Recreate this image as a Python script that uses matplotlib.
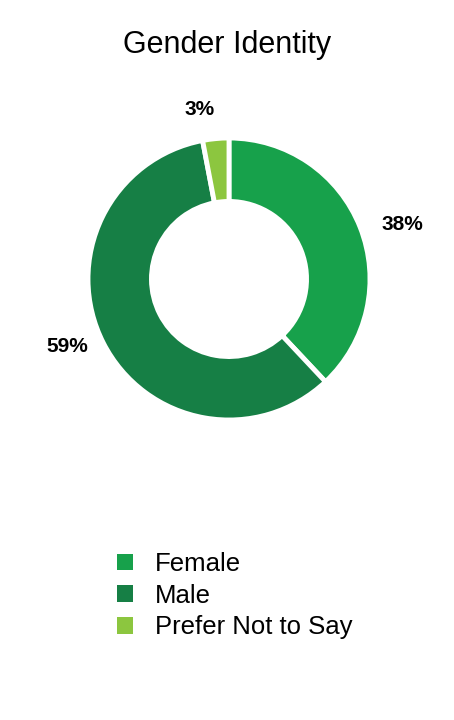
import numpy as np
import matplotlib.pyplot as plt
from matplotlib.patches import Patch

plt.rcParams['font.family'] = ['Liberation Sans', 'DejaVu Sans']

categories = ['Female', 'Male', 'Prefer Not to Say']
shares = [38, 59, 3]
colors = ['#17a14b', '#167f45', '#8cc63f']

# label placement tweaks (angle nudge in degrees, radius in pie units)
label_nudge = [-4.1, -4.3, 4.3]
label_radius = [1.29, 1.24, 1.22]

fig = plt.figure(figsize=(4.54, 7.2), dpi=100)
ax = fig.add_axes([29 / 454, (720 - 479) / 720, 400 / 454, 400 / 720])

wedges, _ = ax.pie(shares, colors=colors, startangle=90, counterclock=False,
                   radius=1.0, wedgeprops=dict(width=0.45, edgecolor='white', linewidth=3.5))

# percent labels outside the ring
total = sum(shares)
start = 90.0
for val, dang, r in zip(shares, label_nudge, label_radius):
    mid = start - 360 * val / total / 2 + dang
    start -= 360 * val / total
    ax.text(r * np.cos(np.radians(mid)), r * np.sin(np.radians(mid)), f'{val}%',
            ha='center', va='center', fontsize=15, fontweight='bold')

a = 400 / (2 * 141)
ax.set_xlim(-a, a)
ax.set_ylim(-a, a)
ax.set_aspect('equal')
ax.axis('off')

fig.text(0.5, 1 - 45 / 720, 'Gender Identity', ha='center', va='center', fontsize=22)

handles = [Patch(facecolor=c, edgecolor='none') for c in colors]
fig.legend(handles, categories, loc='upper left', bbox_to_anchor=(99 / 454, 1 - 534 / 720),
           frameon=False, fontsize=18.5, handlelength=0.62, handleheight=0.62,
           handletextpad=0.85, labelspacing=0.3, borderpad=0.2)

fig.savefig('out.png', dpi=100)
